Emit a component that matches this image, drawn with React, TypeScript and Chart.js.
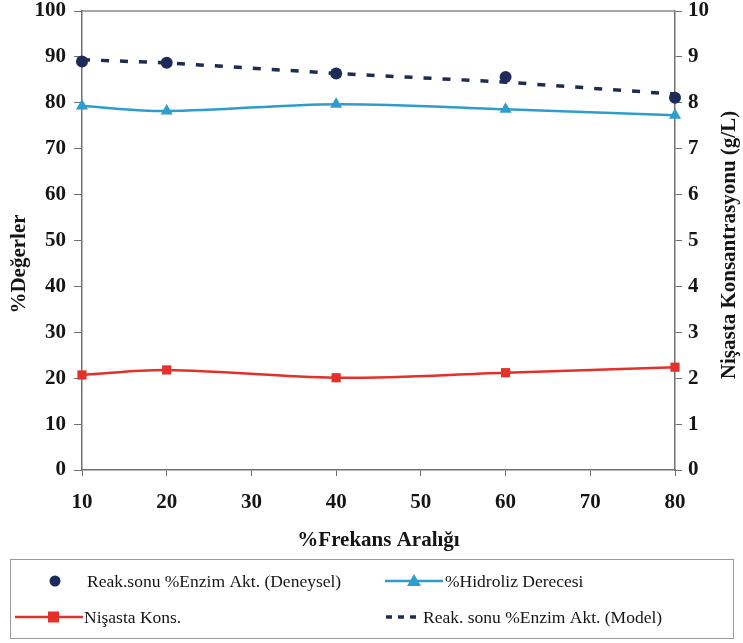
import React, { useEffect, useRef } from "react";
import { Chart, registerables } from "chart.js";

Chart.register(...registerables);

// ---- data ----
const frekans = [10, 20, 40, 60, 80];
const enzimDeneysel = [89.0, 88.7, 86.4, 85.6, 81.1];
const enzimModel = [89.4, 88.7, 86.4, 84.5, 81.9];
const hidroliz = [79.3, 78.2, 79.7, 78.6, 77.3];
const nisasta = [2.07, 2.18, 2.01, 2.12, 2.24];

const xTitle = "%Frekans Aralığı";
const yLeftTitle = "%Değerler";
const yRightTitle = "Nişasta Konsantrasyonu (g/L)";
const labelDeneysel = "Reak.sonu %Enzim Akt. (Deneysel)";
const labelHidroliz = "%Hidroliz Derecesi";
const labelNisasta = "Nişasta Kons.";
const labelModel = "Reak. sonu %Enzim Akt. (Model)";

// ---- style ----
const SERIF = "'Liberation Serif', 'Times New Roman', serif";
const NAVY = "#1d2b5c";
const NAVY_DASH = "#1f2c52";
const BLUE = "#2f9dcc";
const RED = "#e3302a";
const AXIS = "#707070";
const TEXT = "#151515";

const toXY = (ys: number[]) => frekans.map((x, i) => ({ x, y: ys[i] }));

const extras = {
  id: "extras",
  beforeDatasetsDraw(chart: any) {
    const { ctx, chartArea: ca } = chart;
    ctx.save();
    ctx.strokeStyle = "#8a8a8a";
    ctx.lineWidth = 1.5;
    ctx.beginPath();
    ctx.moveTo(ca.left, ca.top);
    ctx.lineTo(ca.right, ca.top);
    ctx.stroke();
    ctx.restore();
  },
  afterDraw(chart: any) {
    const { ctx } = chart;
    ctx.save();
    // y axis titles (both read bottom-to-top)
    ctx.fillStyle = TEXT;
    ctx.font = `bold 21px ${SERIF}`;
    ctx.textAlign = "center";
    ctx.textBaseline = "middle";
    ctx.save();
    ctx.translate(20, 264);
    ctx.rotate(-Math.PI / 2);
    ctx.fillText(yLeftTitle, 0, 0);
    ctx.restore();
    ctx.save();
    ctx.translate(730, 245);
    ctx.rotate(-Math.PI / 2);
    ctx.fillText(yRightTitle, 0, 0);
    ctx.restore();

    // legend box
    const bx = 10, by = 559, bw = 723, bh = 79;
    ctx.fillStyle = "#ffffff";
    ctx.fillRect(bx, by, bw, bh);
    ctx.strokeStyle = "#9a9a9a";
    ctx.lineWidth = 1;
    ctx.strokeRect(bx + 0.5, by + 0.5, bw, bh);

    const r1 = 581, r2 = 617;
    ctx.font = `17.5px ${SERIF}`;
    ctx.textAlign = "left";
    ctx.textBaseline = "middle";

    // Deneysel: circle
    ctx.fillStyle = NAVY;
    ctx.beginPath();
    ctx.arc(55, r1, 5.5, 0, Math.PI * 2);
    ctx.fill();
    ctx.fillStyle = TEXT;
    ctx.fillText(labelDeneysel, 87, r1 + 1);

    // Hidroliz: line + triangle
    ctx.strokeStyle = BLUE;
    ctx.lineWidth = 2.5;
    ctx.beginPath();
    ctx.moveTo(385, r1);
    ctx.lineTo(443, r1);
    ctx.stroke();
    ctx.fillStyle = BLUE;
    ctx.beginPath();
    ctx.moveTo(414, r1 - 7);
    ctx.lineTo(421, r1 + 5);
    ctx.lineTo(407, r1 + 5);
    ctx.closePath();
    ctx.fill();
    ctx.fillStyle = TEXT;
    ctx.fillText(labelHidroliz, 445, r1 + 1);

    // Nisasta: line + square
    ctx.strokeStyle = RED;
    ctx.lineWidth = 2.5;
    ctx.beginPath();
    ctx.moveTo(15, r2);
    ctx.lineTo(83, r2);
    ctx.stroke();
    ctx.fillStyle = RED;
    ctx.fillRect(48, r2 - 5.5, 11, 11);
    ctx.fillStyle = TEXT;
    ctx.fillText(labelNisasta, 84, r2 + 1);

    // Model: dashes
    ctx.strokeStyle = NAVY_DASH;
    ctx.lineWidth = 3.5;
    ctx.setLineDash([6, 6]);
    ctx.beginPath();
    ctx.moveTo(386, r2);
    ctx.lineTo(416, r2);
    ctx.stroke();
    ctx.setLineDash([]);
    ctx.fillStyle = TEXT;
    ctx.fillText(labelModel, 423, r2 + 1);

    ctx.restore();
  },
};

export default function App() {
  const ref = useRef<HTMLCanvasElement | null>(null);

  useEffect(() => {
    if (!ref.current) return;
    const tickFont = { family: SERIF, size: 21, weight: "bold" as const, lineHeight: 1 };
    const chart = new Chart(ref.current, {
      type: "line",
      data: {
        datasets: [
          {
            label: labelModel,
            data: toXY(enzimModel),
            yAxisID: "y",
            borderColor: NAVY_DASH,
            borderWidth: 3.5,
            borderDash: [8, 11],
            pointRadius: 0,
            fill: false,
            tension: 0,
            clip: false,
          },
          {
            label: labelHidroliz,
            data: toXY(hidroliz),
            yAxisID: "y",
            borderColor: BLUE,
            backgroundColor: BLUE,
            borderWidth: 2.5,
            pointStyle: "triangle",
            pointRadius: 7,
            pointBorderWidth: 0,
            fill: false,
            tension: 0.35,
            clip: false,
          },
          {
            label: labelNisasta,
            data: toXY(nisasta),
            yAxisID: "y1",
            borderColor: RED,
            backgroundColor: RED,
            borderWidth: 2.5,
            pointStyle: "rect",
            pointRadius: 6.5,
            pointBorderWidth: 0,
            fill: false,
            tension: 0.35,
            clip: false,
          },
          {
            label: labelDeneysel,
            data: toXY(enzimDeneysel),
            yAxisID: "y",
            showLine: false,
            backgroundColor: NAVY,
            borderColor: NAVY,
            pointStyle: "circle",
            pointRadius: 6,
            pointBorderWidth: 0,
            clip: false,
          },
        ],
      },
      options: {
        responsive: false,
        animation: false,
        layout: { padding: { top: 11, bottom: 88, left: 0, right: 0 } },
        plugins: {
          legend: { display: false },
          tooltip: { enabled: false },
        },
        scales: {
          x: {
            type: "linear",
            min: 10,
            max: 80,
            ticks: { stepSize: 10, color: TEXT, font: tickFont, padding: 16 },
            grid: { drawOnChartArea: false, drawTicks: true, tickLength: 6, color: AXIS },
            border: { color: AXIS, width: 1.5 },
            title: {
              display: true,
              text: xTitle,
              color: TEXT,
              font: { family: SERIF, size: 21, weight: "bold" },
              padding: { top: 0, bottom: 2 },
            },
            afterFit: (s: any) => {
              s.height = 85;
              s.paddingLeft = 0;
              s.paddingRight = 0;
            },
          },
          y: {
            position: "left",
            min: 0,
            max: 100,
            ticks: { stepSize: 10, color: TEXT, font: tickFont, padding: 8 },
            grid: { drawOnChartArea: false, drawTicks: true, tickLength: 8, color: AXIS },
            border: { color: AXIS, width: 1.5 },
            afterFit: (s: any) => {
              s.width = 82;
              s.paddingTop = 0;
              s.paddingBottom = 0;
            },
          },
          y1: {
            position: "right",
            min: 0,
            max: 10,
            ticks: { stepSize: 1, color: TEXT, font: tickFont, padding: 6 },
            grid: { drawOnChartArea: false, drawTicks: true, tickLength: 7, color: AXIS },
            border: { color: AXIS, width: 1.5 },
            afterFit: (s: any) => {
              s.width = 68;
              s.paddingTop = 0;
              s.paddingBottom = 0;
            },
          },
        },
      },
      plugins: [extras],
    });
    return () => chart.destroy();
  }, []);

  return (
    <div style={{ position: "fixed", left: 0, top: 0, width: 743, height: 643, background: "#ffffff" }}>
      <canvas ref={ref} width={743} height={643} style={{ display: "block" }} />
    </div>
  );
}
